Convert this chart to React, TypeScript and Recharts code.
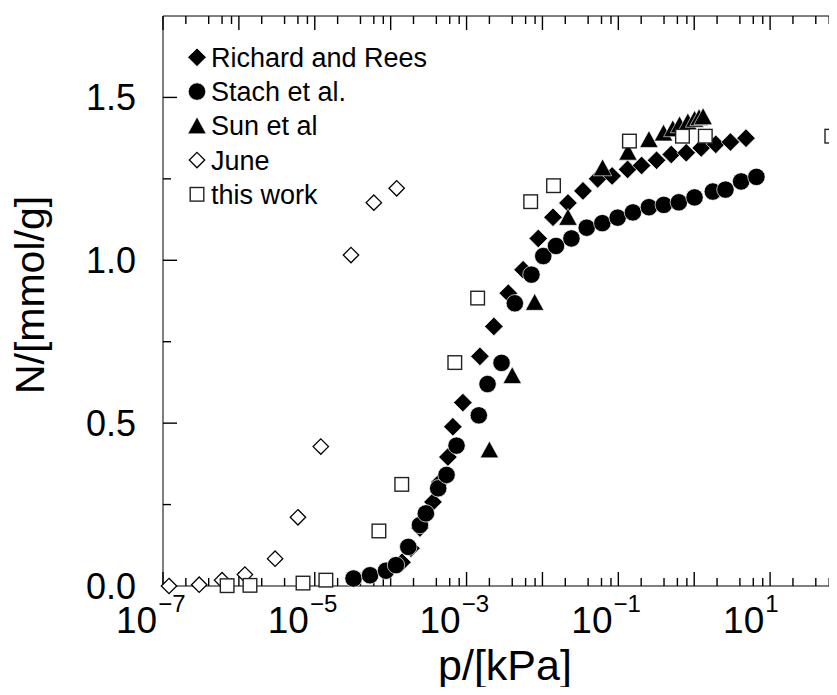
import React from 'react';
import { ScatterChart, Scatter, XAxis, YAxis } from 'recharts';

const FONT = '"Liberation Sans", Arial, Helvetica, sans-serif';

// ---- data ----
const richardP = [1.41e-4, 1.85e-4, 2.43e-4, 2.91e-4, 3.61e-4, 4.46e-4, 5.68e-4, 6.6e-4, 8.94e-4, 1.5e-3, 2.29e-3, 3.55e-3, 5.56e-3, 8.81e-3, 0.01377, 0.0217, 0.0342, 0.0534, 0.0828, 0.1324, 0.2026, 0.319, 0.498, 0.785, 1.236, 1.923, 3.0, 4.81];
const richardN = [0.073, 0.116, 0.178, 0.218, 0.258, 0.319, 0.396, 0.489, 0.563, 0.705, 0.797, 0.899, 0.971, 1.067, 1.132, 1.176, 1.213, 1.25, 1.259, 1.279, 1.291, 1.307, 1.325, 1.33, 1.345, 1.356, 1.363, 1.375];

const stachP = [3.24e-5, 5.35e-5, 8.68e-5, 1.175e-4, 1.706e-4, 2.43e-4, 2.91e-4, 4.23e-4, 5.45e-4, 7.38e-4, 1.45e-3, 1.89e-3, 2.89e-3, 4.33e-3, 7.17e-3, 0.01025, 0.0151, 0.0241, 0.0383, 0.0615, 0.098, 0.1557, 0.253, 0.397, 0.627, 1.01, 1.758, 2.58, 4.15, 6.6];
const stachN = [0.023, 0.033, 0.047, 0.064, 0.12, 0.187, 0.223, 0.3, 0.341, 0.431, 0.524, 0.62, 0.685, 0.868, 0.956, 1.013, 1.044, 1.067, 1.1, 1.114, 1.131, 1.147, 1.163, 1.17, 1.178, 1.193, 1.211, 1.217, 1.242, 1.256];

const sunP = [2e-3, 4e-3, 7.9e-3, 0.0217, 0.062, 0.134, 0.253, 0.394, 0.522, 0.641, 0.824, 1.01, 1.16, 1.31];
const sunN = [0.418, 0.646, 0.871, 1.132, 1.284, 1.332, 1.371, 1.391, 1.404, 1.416, 1.425, 1.433, 1.438, 1.441];

const juneP = [1.2e-7, 3e-7, 6e-7, 1.2e-6, 3e-6, 6e-6, 1.2e-5, 3e-5, 6e-5, 1.2e-4];
const juneN = [0.0, 0.004, 0.018, 0.035, 0.084, 0.211, 0.428, 1.016, 1.177, 1.221];

const thisP = [7e-7, 1.4e-6, 7e-6, 1.4e-5, 7e-5, 1.4e-4, 7e-4, 1.4e-3, 7e-3, 1.4e-2, 0.14, 0.7, 1.4, 65];
const thisN = [0.001, 0.002, 0.009, 0.018, 0.169, 0.312, 0.686, 0.884, 1.18, 1.229, 1.366, 1.381, 1.381, 1.381];

const legendLabels = ['Richard and Rees', 'Stach et al.', 'Sun et al', 'June', 'this work'];
const markerKinds = ['fdiamond', 'circle', 'triangle', 'odiamond', 'square'];

const xDomain = [1e-7, 100];
const yDomain = [0, 1.75];
const labeledExp = [-7, -5, -3, -1, 1];
const xTickMult = [1, 2, 4, 6, 8];
const xTicks: number[] = [];
for (let e = -7; e <= 2; e++) {
  for (const m of xTickMult) {
    const v = Number((m * Math.pow(10, e)).toPrecision(6));
    if (v <= 100) xTicks.push(v);
  }
}
const yTicks = [0, 0.25, 0.5, 0.75, 1.0, 1.25, 1.5];

const toPts = (p: number[], n: number[]) => p.map((v, i) => ({ p: v, n: n[i] }));
const seriesData = [toPts(richardP, richardN), toPts(stachP, stachN), toPts(sunP, sunN), toPts(juneP, juneN), toPts(thisP, thisN)];

// tick-mark positions (drawn through the chart's own scales)
const bottomTickPts = xTicks.map((v) => ({ p: v, n: yDomain[0] }));
const topTickPts = xTicks.map((v) => ({ p: v, n: yDomain[1] }));
const leftTickPts = yTicks.map((v) => ({ p: xDomain[0], n: v }));
const rightTickPts = yTicks.map((v) => ({ p: xDomain[1], n: v }));

// ---- markers ----
const Mark = ({ kind, cx, cy }: { kind: string; cx: number; cy: number }) => {
  if (cx == null || cy == null) return null;
  switch (kind) {
    case 'fdiamond':
      return <polygon points={`${cx},${cy - 9.3} ${cx + 9.3},${cy} ${cx},${cy + 9.3} ${cx - 9.3},${cy}`} fill="#000" stroke="#fff" strokeWidth={0.7} />;
    case 'circle':
      return <circle cx={cx} cy={cy} r={8.7} fill="#000" stroke="#fff" strokeWidth={0.7} />;
    case 'triangle':
      return <polygon points={`${cx},${cy - 8.8} ${cx + 9.2},${cy + 8} ${cx - 9.2},${cy + 8}`} fill="#000" stroke="#fff" strokeWidth={0.6} />;
    case 'odiamond':
      return <polygon points={`${cx},${cy - 7.7} ${cx + 7.7},${cy} ${cx},${cy + 7.7} ${cx - 7.7},${cy}`} fill="#fff" stroke="#000" strokeWidth={1.3} />;
    case 'square':
      return <rect x={cx - 6.8} y={cy - 6.8} width={13.6} height={13.6} fill="#fff" stroke="#222" strokeWidth={1.4} />;
    default:
      return null;
  }
};

const isMajorLog = (v: number) => {
  const l = Math.log10(v);
  return Math.abs(l - Math.round(l)) < 1e-6;
};
const isMajorY = (v: number) => Math.abs(v * 2 - Math.round(v * 2)) < 1e-9;

const tickShape = (side: string) => (props: any) => {
  const { cx, cy, payload } = props;
  if (cx == null || cy == null || !payload) return <g />;
  if (side === 'bottom' || side === 'top') {
    const len = isMajorLog(payload.p) ? 14 : 8;
    const y2 = side === 'bottom' ? cy - len : cy + len;
    return <line x1={cx} y1={cy} x2={cx} y2={y2} stroke="#000" strokeWidth={1.4} />;
  }
  const len = isMajorY(payload.n) ? 14 : 8;
  const x2 = side === 'left' ? cx + len : cx - len;
  return <line x1={cx} y1={cy} x2={x2} y2={cy} stroke="#000" strokeWidth={1.4} />;
};

// ---- tick labels ----
const BottomTick = (props: any) => {
  const { x, y, payload } = props;
  const v = payload.value;
  const major = isMajorLog(v);
  const e = Math.round(Math.log10(v));
  if (!(major && labeledExp.includes(e))) return <g />;
  return (
    <text x={x - 47} y={y + 47} fontSize={37} fontFamily={FONT} fill="#000">
      10
      <tspan dx={1} dy={-21} fontSize={24}>{e < 0 ? '\u2212' + -e : String(e)}</tspan>
    </text>
  );
};

const LeftTick = (props: any) => {
  const { x, y, payload } = props;
  const v = payload.value;
  if (!isMajorY(v)) return <g />;
  return (
    <text x={x - 27} y={y + 13} textAnchor="end" fontSize={36} fontFamily={FONT} fill="#000">
      {v.toFixed(1)}
    </text>
  );
};

const W = 900;
const H = 687;

export default function App() {
  return (
    <div style={{ position: 'relative', width: 829, height: H, overflow: 'hidden', marginBottom: -8 }}>
      <svg width={W} height={H} style={{ position: 'absolute', left: 0, top: 0, pointerEvents: 'none', zIndex: 0 }}>
        {legendLabels.map((lab, i) => (
          <g key={lab}>
            <Mark kind={markerKinds[i]} cx={189} cy={49.3 + i * 34.25} />
            <text x={203} y={49.3 + i * 34.25 + 9.5} fontSize={27} fontFamily={FONT} fill="#000">{lab}</text>
          </g>
        ))}
        <text x={497} y={672} textAnchor="middle" fontSize={43} fontFamily={FONT} fill="#000">p/[kPa]</text>
        <text x={36} y={287} textAnchor="middle" fontSize={41} fontFamily={FONT} fill="#000" transform="rotate(-90 36 287)">N/[mmol/g]</text>
      </svg>
      <div style={{ position: 'absolute', left: 0, top: 0, zIndex: 1 }}>
        <ScatterChart width={W} height={H} margin={{ top: 7, right: 61, bottom: 108, left: 154 }}>
          <XAxis
            xAxisId="b"
            dataKey="p"
            type="number"
            scale="log"
            domain={xDomain}
            ticks={xTicks}
            interval={0}
            tick={<BottomTick />}
            tickLine={false}
            tickSize={0}
            tickMargin={0}
            height={1}
            axisLine={{ stroke: '#000' }}
          />
          <XAxis
            xAxisId="t"
            orientation="top"
            dataKey="p"
            type="number"
            scale="log"
            domain={xDomain}
            ticks={xTicks}
            tick={false}
            tickLine={false}
            height={1}
            axisLine={{ stroke: '#000' }}
          />
          <YAxis
            yAxisId="l"
            dataKey="n"
            type="number"
            domain={yDomain}
            ticks={yTicks}
            interval={0}
            tick={<LeftTick />}
            tickLine={false}
            tickSize={0}
            tickMargin={0}
            width={1}
            axisLine={{ stroke: '#000' }}
          />
          <YAxis
            yAxisId="r"
            orientation="right"
            dataKey="n"
            type="number"
            domain={yDomain}
            ticks={yTicks}
            tick={false}
            tickLine={false}
            width={1}
            axisLine={{ stroke: '#000' }}
          />
          <Scatter name="bt" data={bottomTickPts} xAxisId="b" yAxisId="l" isAnimationActive={false} legendType="none" shape={tickShape('bottom')} />
          <Scatter name="tt" data={topTickPts} xAxisId="b" yAxisId="l" isAnimationActive={false} legendType="none" shape={tickShape('top')} />
          <Scatter name="lt" data={leftTickPts} xAxisId="b" yAxisId="l" isAnimationActive={false} legendType="none" shape={tickShape('left')} />
          <Scatter name="rt" data={rightTickPts} xAxisId="b" yAxisId="l" isAnimationActive={false} legendType="none" shape={tickShape('right')} />
          {seriesData.map((d, i) => (
            <Scatter
              key={legendLabels[i]}
              name={legendLabels[i]}
              data={d}
              xAxisId="b"
              yAxisId="l"
              isAnimationActive={false}
              shape={(p: any) => <Mark kind={markerKinds[i]} cx={p.cx} cy={p.cy} />}
            />
          ))}
          <Scatter
            name="frame"
            data={seriesData[4]}
            xAxisId="t"
            yAxisId="r"
            isAnimationActive={false}
            legendType="none"
            shape={() => <g />}
          />
        </ScatterChart>
      </div>
    </div>
  );
}
